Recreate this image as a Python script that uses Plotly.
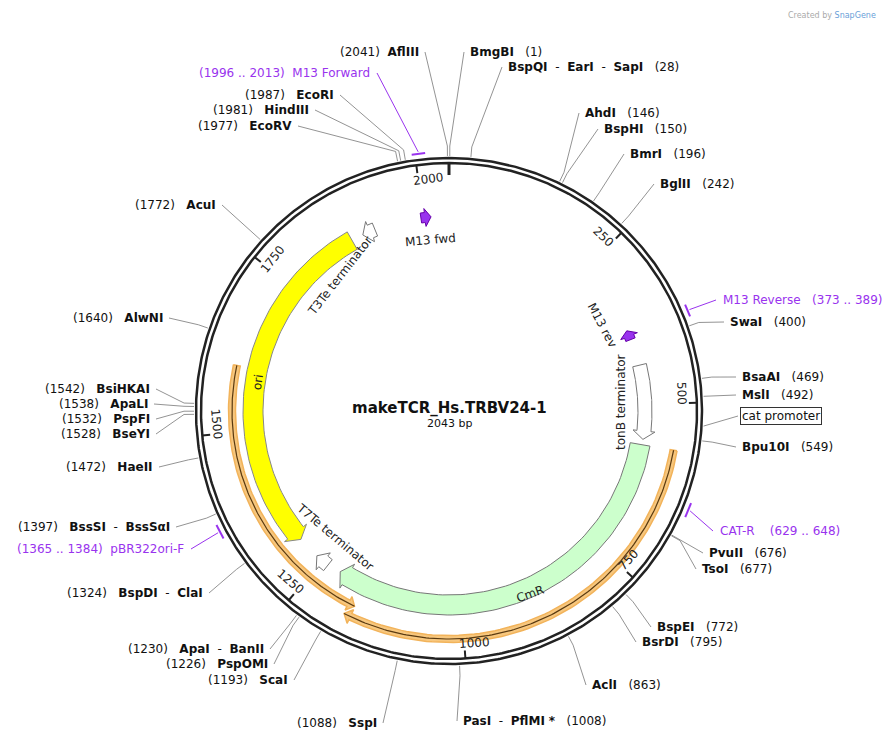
import numpy as np
import plotly.graph_objects as go

TOTAL = 2043
CX, CY, R = 449, 411, 253

# enzyme sites: (bp, label html, label x, label y, side)
enzymes = [
    (2041, "(2041)  <b>AflIII</b>", 421, 52, "L"),
    (1, "<b>BmgBI</b>   (1)", 468, 52, "R"),
    (28, "<b>BspQI</b>  -  <b>EarI</b>  -  <b>SapI</b>   (28)", 506, 67, "R"),
    (146, "<b>AhdI</b>   (146)", 583, 113, "R"),
    (150, "<b>BspHI</b>   (150)", 602, 129, "R"),
    (196, "<b>BmrI</b>   (196)", 628, 154, "R"),
    (242, "<b>BglII</b>   (242)", 658, 184, "R"),
    (400, "<b>SwaI</b>   (400)", 728, 322, "R"),
    (469, "<b>BsaAI</b>   (469)", 740, 377, "R"),
    (492, "<b>MslI</b>   (492)", 740, 395, "R"),
    (549, "<b>Bpu10I</b>   (549)", 740, 447, "R"),
    (676, "<b>PvuII</b>   (676)", 707, 553, "R"),
    (677, "<b>TsoI</b>   (677)", 700, 569, "R"),
    (772, "<b>BspEI</b>   (772)", 655, 627, "R"),
    (795, "<b>BsrDI</b>   (795)", 640, 642, "R"),
    (863, "<b>AclI</b>   (863)", 590, 685, "R"),
    (1008, "<b>PasI</b>  -  <b>PflMI</b> <b>*</b>   (1008)", 461, 721, "R"),
    (1088, "(1088)   <b>SspI</b>", 379, 723, "L"),
    (1193, "(1193)   <b>ScaI</b>", 290, 680, "L"),
    (1226, "(1226)   <b>PspOMI</b>", 270, 664, "L"),
    (1230, "(1230)   <b>ApaI</b>  -  <b>BanII</b>", 266, 649, "L"),
    (1324, "(1324)   <b>BspDI</b>  -  <b>ClaI</b>", 205, 593, "L"),
    (1397, "(1397)   <b>BssSI</b>  -  <b>BssSαI</b>", 172, 527, "L"),
    (1472, "(1472)   <b>HaeII</b>", 155, 467, "L"),
    (1528, "(1528)   <b>BseYI</b>", 152, 434, "L"),
    (1532, "(1532)   <b>PspFI</b>", 152, 419, "L"),
    (1538, "(1538)   <b>ApaLI</b>", 150, 404, "L"),
    (1542, "(1542)   <b>BsiHKAI</b>", 152, 389, "L"),
    (1640, "(1640)   <b>AlwNI</b>", 165, 318, "L"),
    (1772, "(1772)   <b>AcuI</b>", 218, 205, "L"),
    (1977, "(1977)   <b>EcoRV</b>", 294, 126, "L"),
    (1981, "(1981)   <b>HindIII</b>", 311, 110, "L"),
    (1987, "(1987)   <b>EcoRI</b>", 336, 95, "L"),
]

# primers: (start, end, label, label x, label y, side)
primers = [
    (1996, 2013, "(1996 .. 2013)  M13 Forward", 372, 73, "L"),
    (373, 389, "M13 Reverse   (373 .. 389)", 721, 300, "R"),
    (629, 648, "CAT-R    (629 .. 648)", 718, 531, "R"),
    (1365, 1384, "(1365 .. 1384)  pBR322ori-F", 186, 549, "L"),
]

# features: (start, end, radius, width, head_at_end, fill, line)
features = [
    (1300, 1875, 196, 20, False, "#ffff00", "#888888"),   # ori
    (567, 1215, 194, 20, True, "#ccffcc", "#777777"),     # CmR
    (434, 558, 196, 14, True, "#ffffff", "#777777"),      # tonB terminator
    (1895, 1917, 196, 14, False, "#ffffff", "#777777"),   # T3Te terminator
    (1238, 1262, 196, 14, True, "#ffffff", "#777777"),    # T7Te terminator
    (1996, 2013, 195, 10, True, "#9933ee", "#6600aa"),    # M13 fwd
    (373, 389, 195, 10, False, "#9933ee", "#6600aa"),     # M13 rev
]
orange_arcs = [(567, 1177, 228, True), (1168, 1601, 217, False)]
ticks = [250, 500, 750, 1000, 1250, 1500, 1750, 2000]


def pt(bp, r):
    a = 2 * np.pi * np.asarray(bp, float) / TOTAL
    return CX + r * np.sin(a), CY - r * np.cos(a)


fig = go.Figure()

def line(xs, ys, color, w, fill=None, fc=None):
    fig.add_trace(go.Scatter(x=list(xs), y=list(ys), mode="lines",
                             line=dict(color=color, width=w), fill=fill,
                             fillcolor=fc, hoverinfo="skip", showlegend=False))

# backbone
t = np.linspace(0, TOTAL, 600)
for r in (R, R - 5):
    x, y = pt(t, r)
    line(x, y, "#222222", 2.5)
x0, y0 = pt(0, R - 5); x1, y1 = pt(0, R - 17)
line([x0, x1], [y0, y1], "#222222", 3)

# ticks
for tk in ticks:
    xa, ya = pt(tk, R - 5); xb, yb = pt(tk, R - 13)
    line([xa, xb], [ya, yb], "#222222", 2)
    th = 360 * tk / TOTAL
    ang = th if th < 90 else (th - 180 if th <= 270 else th - 360)
    xt, yt = pt(tk + (-14 if th < 180 else 14), R - 20)
    fig.add_annotation(x=xt, y=yt, text=str(tk), showarrow=False, textangle=ang,
                       font=dict(size=12, color="#222"))

# features
def arc_poly(s, e, r, w, head_end, headlen_bp=14):
    hl = min(headlen_bp, (e - s) * 0.6)
    if head_end:
        body = np.linspace(s, e - hl, 80)
        tip = e
    else:
        body = np.linspace(s + hl, e, 80)
        tip = s
    xo, yo = pt(body, r + w / 2); xi, yi = pt(body, r - w / 2)
    xho, yho = pt(body[-1] if head_end else body[0], r + w / 2 + 4)
    xhi, yhi = pt(body[-1] if head_end else body[0], r - w / 2 - 4)
    xt, yt = pt(tip, r)
    if head_end:
        X = list(xo) + [xho, xt, xhi] + list(xi[::-1]) + [xo[0]]
        Y = list(yo) + [yho, yt, yhi] + list(yi[::-1]) + [yo[0]]
    else:
        X = list(xo[::-1]) + [xho, xt, xhi] + list(xi) + [xo[-1]]
        Y = list(yo[::-1]) + [yho, yt, yhi] + list(yi) + [yo[-1]]
    return X, Y

for s, e, r, w, he, fc, lc in features:
    X, Y = arc_poly(s, e, r, w, he)
    line(X, Y, lc, 1, fill="toself", fc=fc)

for s, e, r, he in orange_arcs:
    X, Y = arc_poly(s, e, r, 7, he, 10)
    line(X, Y, "#f2b35a", 1.5, fill="toself", fc="#f7c77e")
    b = np.linspace(s, e, 150)
    x, y = pt(b, r)
    line(x, y, "#5a3a10", 1.2)

# primers
for s, e, lab, lx, ly, side in primers:
    b = np.linspace(s, e, 20)
    x, y = pt(b, R + 6)
    line(x, y, "#9933ee", 2)
    xm, ym = pt((s + e) / 2, R + 8)
    ex = lx + (5 if side == "L" else -5)
    line([xm, ex], [ym, ly], "#9933ee", 1)
    fig.add_annotation(x=lx, y=ly, text=lab, showarrow=False,
                       xanchor="right" if side == "L" else "left",
                       font=dict(size=12, color="#9933ee"))

# enzymes
for bp, lab, lx, ly, side in enzymes:
    xa, ya = pt(bp, R + 2)
    xb, yb = pt(bp, R + 12)
    ex = lx + (4 if side == "L" else -4)
    line([xa, xb, ex], [ya, yb, ly], "#777777", 0.8)
    fig.add_annotation(x=lx, y=ly, text=lab, showarrow=False,
                       xanchor="right" if side == "L" else "left",
                       font=dict(size=12, color="#111"))

# cat promoter boxed label
xa, ya = pt(530, R + 2)
line([xa, 738], [ya, 416], "#777777", 0.8)
fig.add_annotation(x=740, y=416, text="cat promoter", showarrow=False, xanchor="left",
                   bordercolor="#333", borderwidth=1, borderpad=1, bgcolor="white",
                   font=dict(size=12, color="#111"))

# inner feature labels
inner = [
    ("M13 fwd", 430, 240, -5), ("T3Te terminator", 340, 276, -52),
    ("ori", 258, 382, -82), ("M13 rev", 602, 325, 62),
    ("tonB terminator", 621, 402, -90), ("T7Te terminator", 335, 537, 40),
    ("CmR", 530, 594, -20),
]
for txt, x, y, a in inner:
    fig.add_annotation(x=x, y=y, text=txt, showarrow=False, textangle=a,
                       font=dict(size=12, color="#222"))

fig.add_annotation(x=449, y=408, text="<b>makeTCR_Hs.TRBV24-1</b>", showarrow=False,
                   font=dict(size=15, color="#111"))
fig.add_annotation(x=449, y=423, text="2043 bp", showarrow=False, font=dict(size=11, color="#111"))
fig.add_annotation(x=832, y=15, text="Created by <span style='color:#6aa0d8'>SnapGene</span>",
                   showarrow=False, font=dict(size=8, color="#aaa"))

fig.update_layout(width=896, height=742, margin=dict(l=0, r=0, t=0, b=0),
                  plot_bgcolor="white", paper_bgcolor="white",
                  font=dict(family="DejaVu Sans"),
                  xaxis=dict(range=[8, 904], visible=False, fixedrange=True),
                  yaxis=dict(range=[750, 8], visible=False, fixedrange=True))
fig.write_html("out.html")
